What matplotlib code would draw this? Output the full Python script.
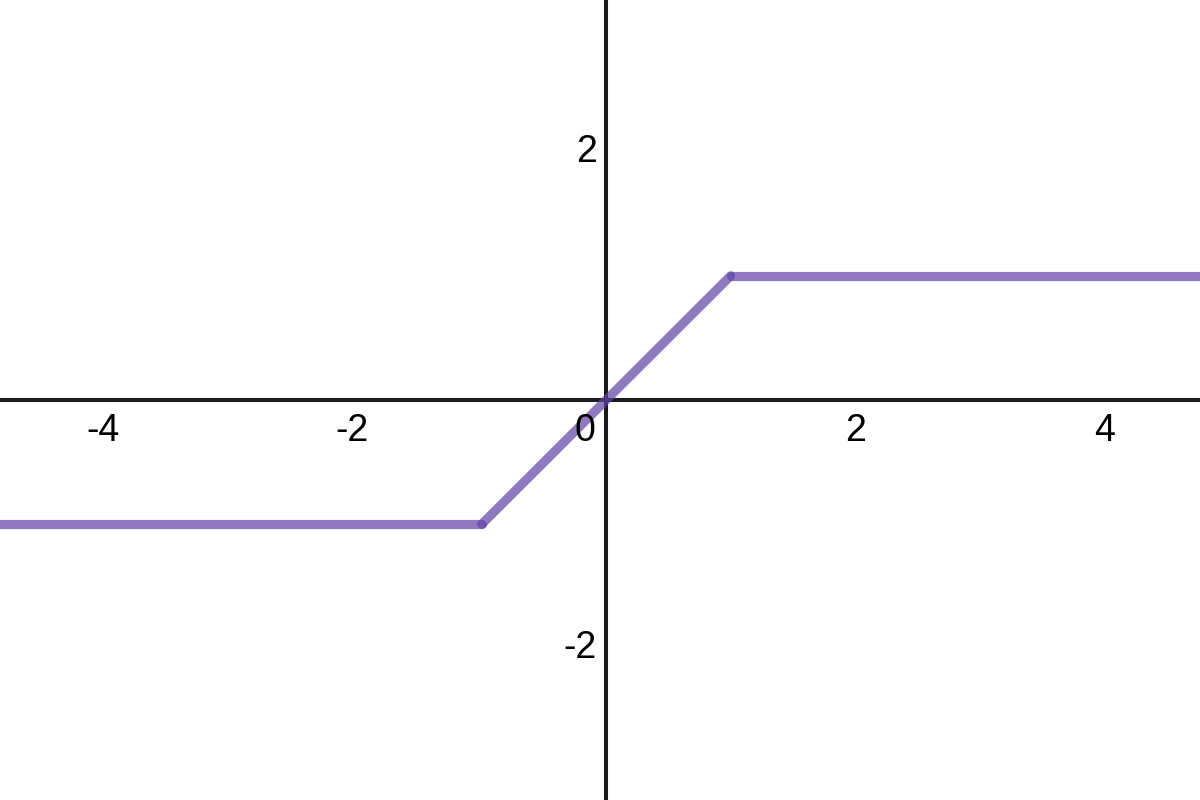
import matplotlib
matplotlib.use("Agg")
import matplotlib.pyplot as plt

plt.rcParams["font.family"] = ["Liberation Sans", "DejaVu Sans"]

# piecewise-linear curve (clipped identity)
curve_x = [-5.0, -1.0, 1.0, 5.0]
curve_y = [-1.0, -1.0, 1.0, 1.0]

x_ticks = [-4, -2, 2, 4]
y_ticks = [-2, 2]

LINE_COLOR = "#6042a6"
AXIS_COLOR = "#1a1a1a"

fig = plt.figure(figsize=(12, 8), dpi=100)
ax = fig.add_axes([0, 0, 1, 1])
ax.set_xlim(-4.87, 4.77)
ax.set_ylim(-3.22, 3.22)
ax.axis("off")

ax.axhline(0, color=AXIS_COLOR, lw=2.9, zorder=1)
ax.axvline(0, color=AXIS_COLOR, lw=2.9, zorder=1)

# each segment drawn separately so the translucent joints overlap
for i in range(len(curve_x) - 1):
    ax.plot(curve_x[i:i + 2], curve_y[i:i + 2], color=LINE_COLOR, alpha=0.7,
            lw=6.6, solid_capstyle="round", zorder=3)

fs = 27
for t in x_ticks:
    dx = -3.5 if t < 0 else 0
    ax.annotate(str(t), (t, 0), xytext=(dx, -9.5), textcoords="offset points",
                ha="center", va="top", fontsize=fs, color="black")
for t in y_ticks:
    ax.annotate(str(t), (0, t), xytext=(-7, 0), textcoords="offset points",
                ha="right", va="center", fontsize=fs, color="black")
ax.annotate("0", (0, 0), xytext=(-8, -9.5), textcoords="offset points",
            ha="right", va="top", fontsize=fs, color="black")

fig.savefig("out.png", dpi=100)
